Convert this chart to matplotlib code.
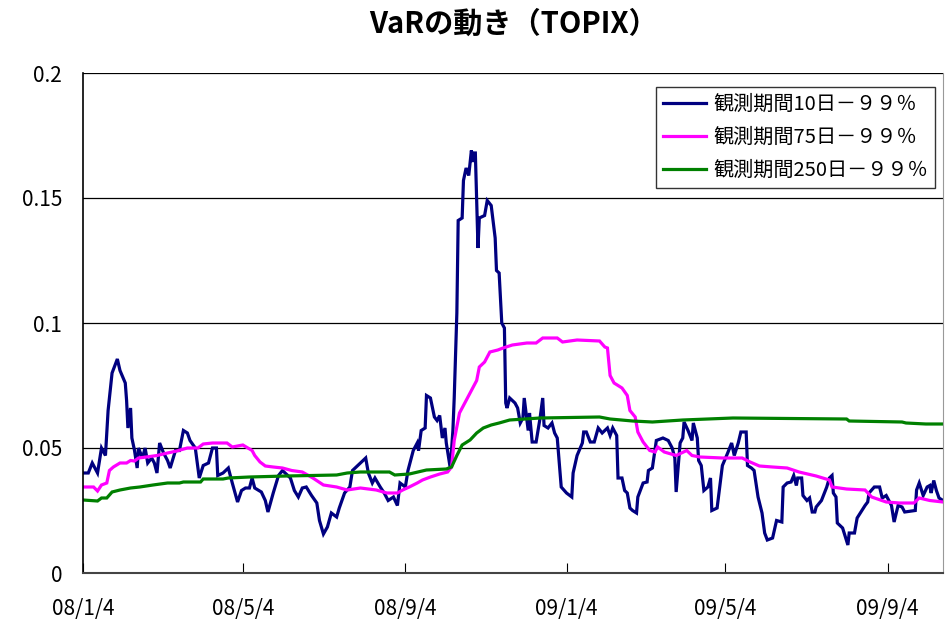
import pandas as pd
import matplotlib.pyplot as plt

plt.rcParams['font.family'] = ['Noto Sans CJK JP', 'DejaVu Sans']

# 起点日からの経過日数と VaR 値
start = pd.Timestamp('2008-01-04')

d10 = [0, 4, 7, 9, 11, 14, 17, 19, 22, 26, 28, 32, 33, 34, 36, 37, 39, 41, 42, 45,
       47, 49, 52, 54, 56, 58, 61, 64, 66, 70, 73, 76, 79, 81, 85, 86, 88, 91, 95, 98,
       101, 102, 106, 110, 113, 117, 120, 123, 126, 128, 130, 135, 138, 140, 144, 148, 151, 157, 160, 163,
       166, 169, 173, 177, 179, 182, 185, 188, 192, 194, 198, 202, 204, 210, 214, 216, 219, 221, 225, 228,
       231, 235, 238, 240, 244, 246, 250, 253, 254, 256, 259, 260, 263, 266, 268, 270, 272, 274, 275, 278,
       280, 281, 283, 284, 287, 288, 290, 292, 294, 295, 296, 297, 299, 300, 304, 306, 309, 312, 313, 315,
       317, 319, 320, 321, 323, 327, 329, 331, 333, 334, 337, 338, 340, 343, 346, 348, 349, 352, 355, 357,
       359, 362, 366, 370, 371, 374, 378, 379, 381, 384, 387, 390, 393, 395, 397, 399, 401, 404, 405, 408,
       410, 412, 414, 416, 419, 420, 424, 427, 428, 431, 434, 439, 443, 446, 448, 449, 452, 454, 455, 458,
       461, 462, 465, 466, 468, 470, 473, 475, 476, 480, 482, 484, 488, 491, 493, 496, 498, 502, 503, 506,
       508, 511, 514, 516, 518, 522, 525, 529, 530, 533, 536, 538, 540, 541, 544, 545, 548, 550, 552, 554,
       555, 559, 563, 565, 567, 568, 570, 571, 575, 579, 580, 584, 586, 592, 594, 595, 599, 603, 605, 608,
       612, 614, 617, 620, 622, 630, 631, 633, 636, 639, 641, 642, 644, 646, 648, 651]
v10 = [0.040, 0.040, 0.044, 0.042, 0.040, 0.050, 0.047, 0.065, 0.080, 0.0856, 0.081, 0.076, 0.069, 0.058, 0.066, 0.054, 0.049, 0.042, 0.050, 0.046,
       0.050, 0.044, 0.046, 0.044, 0.040, 0.052, 0.048, 0.045, 0.042, 0.049, 0.049, 0.057, 0.056, 0.053, 0.050, 0.046, 0.038, 0.043, 0.044, 0.050,
       0.050, 0.039, 0.040, 0.042, 0.036, 0.0284, 0.033, 0.034, 0.034, 0.038, 0.034, 0.0324, 0.029, 0.0244, 0.032, 0.039, 0.041, 0.038, 0.033, 0.0304,
       0.034, 0.0344, 0.031, 0.028, 0.021, 0.0156, 0.0184, 0.024, 0.0224, 0.026, 0.032, 0.0344, 0.041, 0.044, 0.046, 0.040, 0.036, 0.038, 0.0344, 0.032,
       0.029, 0.0304, 0.027, 0.036, 0.0344, 0.041, 0.049, 0.052, 0.049, 0.057, 0.058, 0.071, 0.070, 0.0624, 0.061, 0.063, 0.054, 0.058, 0.052, 0.042,
       0.057, 0.070, 0.104, 0.141, 0.142, 0.157, 0.162, 0.159, 0.169, 0.1644, 0.168, 0.168, 0.130, 0.142, 0.143, 0.149, 0.147, 0.134, 0.121, 0.120,
       0.100, 0.098, 0.068, 0.066, 0.070, 0.068, 0.066, 0.060, 0.062, 0.070, 0.057, 0.064, 0.0524, 0.0524, 0.062, 0.070, 0.059, 0.058, 0.060, 0.056,
       0.054, 0.0344, 0.032, 0.0304, 0.040, 0.047, 0.052, 0.0564, 0.0564, 0.0524, 0.0524, 0.058, 0.056, 0.057, 0.058, 0.055, 0.058, 0.055, 0.038, 0.038,
       0.033, 0.032, 0.026, 0.025, 0.024, 0.0304, 0.036, 0.0364, 0.041, 0.042, 0.053, 0.054, 0.053, 0.050, 0.046, 0.0324, 0.052, 0.054, 0.0604, 0.057,
       0.053, 0.060, 0.054, 0.045, 0.043, 0.033, 0.0344, 0.038, 0.025, 0.026, 0.0344, 0.043, 0.048, 0.052, 0.047, 0.052, 0.0564, 0.0564, 0.043, 0.042,
       0.041, 0.0304, 0.024, 0.016, 0.0132, 0.014, 0.021, 0.0204, 0.0344, 0.036, 0.0364, 0.039, 0.035, 0.038, 0.038, 0.031, 0.029, 0.030, 0.0244, 0.0244,
       0.0264, 0.029, 0.0344, 0.038, 0.039, 0.032, 0.0304, 0.020, 0.018, 0.0112, 0.016, 0.016, 0.022, 0.027, 0.0284, 0.032, 0.0344, 0.0344, 0.030, 0.031,
       0.027, 0.0204, 0.027, 0.0264, 0.0244, 0.025, 0.0332, 0.036, 0.031, 0.0344, 0.035, 0.032, 0.037, 0.033, 0.030, 0.029]

d75 = [0, 8, 11, 14, 18, 20, 23, 28, 33, 36, 39, 42, 48, 56, 64, 71, 79, 87, 91, 98,
       109, 113, 121, 128, 130, 134, 138, 144, 151, 158, 166, 174, 182, 192, 200, 210, 222, 230, 238, 242,
       247, 253, 257, 263, 270, 276, 279, 281, 285, 289, 293, 298, 300, 304, 308, 314, 318, 325, 336, 343,
       348, 359, 363, 374, 391, 395, 397, 399, 402, 408, 412, 414, 418, 420, 424, 429, 433, 435, 440, 449,
       457, 461, 467, 484, 499, 505, 512, 522, 533, 542, 555, 565, 567, 578, 592, 597, 608, 618, 629, 633,
       641, 651]
v75 = [0.0344, 0.0344, 0.0328, 0.0352, 0.036, 0.041, 0.0424, 0.044, 0.044, 0.045, 0.0448, 0.046, 0.0464, 0.047, 0.048, 0.0488, 0.050, 0.050, 0.0516, 0.052,
       0.052, 0.0504, 0.0512, 0.049, 0.047, 0.0444, 0.0428, 0.0424, 0.042, 0.041, 0.0404, 0.038, 0.0352, 0.0344, 0.0332, 0.034, 0.0332, 0.032, 0.032, 0.0332,
       0.0344, 0.036, 0.0372, 0.0384, 0.0396, 0.0404, 0.0424, 0.053, 0.064, 0.068, 0.072, 0.077, 0.0824, 0.0844, 0.0884, 0.0892, 0.090, 0.0912, 0.092, 0.092,
       0.094, 0.094, 0.0924, 0.0932, 0.0928, 0.0904, 0.090, 0.079, 0.076, 0.074, 0.071, 0.065, 0.0624, 0.0564, 0.0524, 0.049, 0.0484, 0.0504, 0.0484, 0.047,
       0.049, 0.047, 0.0464, 0.046, 0.046, 0.0444, 0.0428, 0.0424, 0.042, 0.0404, 0.0388, 0.0372, 0.0344, 0.0336, 0.0332, 0.0304, 0.0284, 0.028, 0.028, 0.030,
       0.029, 0.0284]

d250 = [0, 11, 14, 18, 22, 28, 36, 43, 53, 64, 73, 76, 89, 91, 106, 110, 126, 154, 192, 200,
        210, 232, 236, 247, 260, 275, 279, 283, 287, 293, 298, 303, 309, 315, 323, 346, 391, 399, 416, 431,
        454, 492, 578, 580, 620, 623, 638, 651]
v250 = [0.0292, 0.0288, 0.030, 0.030, 0.0324, 0.0332, 0.034, 0.0344, 0.0352, 0.036, 0.036, 0.0364, 0.0364, 0.0376, 0.0376, 0.038, 0.0384, 0.0388, 0.0392, 0.040,
        0.0404, 0.0404, 0.0392, 0.0396, 0.0412, 0.0416, 0.0424, 0.047, 0.0512, 0.0532, 0.056, 0.058, 0.0592, 0.060, 0.0612, 0.062, 0.0624, 0.0616, 0.0608, 0.0604,
        0.0612, 0.062, 0.0616, 0.0608, 0.0604, 0.060, 0.0596, 0.0596]

names = ['観測期間10日－９９％', '観測期間75日－９９％', '観測期間250日－９９％']
colors = ['#000080', '#ff00ff', '#008000']

tick_dates = ['2008-01-04', '2008-05-04', '2008-09-04', '2009-01-04', '2009-05-04', '2009-09-04']
tick_labels = ['08/1/4', '08/5/4', '08/9/4', '09/1/4', '09/5/4', '09/9/4']
y_ticks = [0, 0.05, 0.1, 0.15, 0.2]
y_labels = ['0', '0.05', '0.1', '0.15', '0.2']


def to_dates(days):
    return start + pd.to_timedelta(days, unit='D')


fig = plt.figure(figsize=(9.46, 6.23), dpi=100)
ax = fig.add_axes([83 / 946, 50 / 623, 860 / 946, 500 / 623])

for d, v, n, c in zip([d10, d75, d250], [v10, v75, v250], names, colors):
    ax.plot(to_dates(d), v, color=c, lw=2.3, label=n, solid_joinstyle='miter')

ax.set_xlim(start, to_dates([651])[0])
ax.set_ylim(0, 0.2)
ax.set_yticks(y_ticks)
ax.set_yticklabels(y_labels)
ax.set_xticks(pd.to_datetime(tick_dates))
ax.set_xticklabels(tick_labels)

ax.tick_params(axis='x', direction='in', length=7, width=0.8, pad=18, labelsize=15)
ax.tick_params(axis='y', length=0, pad=15, labelsize=15)
ax.grid(axis='y', color='black', lw=0.9)
ax.set_axisbelow(True)

ax.spines['top'].set_visible(False)
ax.spines['right'].set_color('#999999')
ax.spines['left'].set_linewidth(1.2)
ax.spines['bottom'].set_linewidth(1.5)
ax.spines['bottom'].set_color('#444444')

leg = ax.legend(loc='upper right', bbox_to_anchor=(0.991, 0.972), borderaxespad=0,
                fontsize=14.5, frameon=True, fancybox=False, edgecolor='black',
                handlelength=2.1, handletextpad=0.4, labelspacing=0.6,
                borderpad=0.35)
leg.get_frame().set_linewidth(1.0)

fig.text(514 / 946, 1 - 24 / 623, 'VaRの動き（TOPIX）', ha='center', va='center',
         fontsize=21, fontweight='bold')

fig.savefig('out.png', dpi=100)
